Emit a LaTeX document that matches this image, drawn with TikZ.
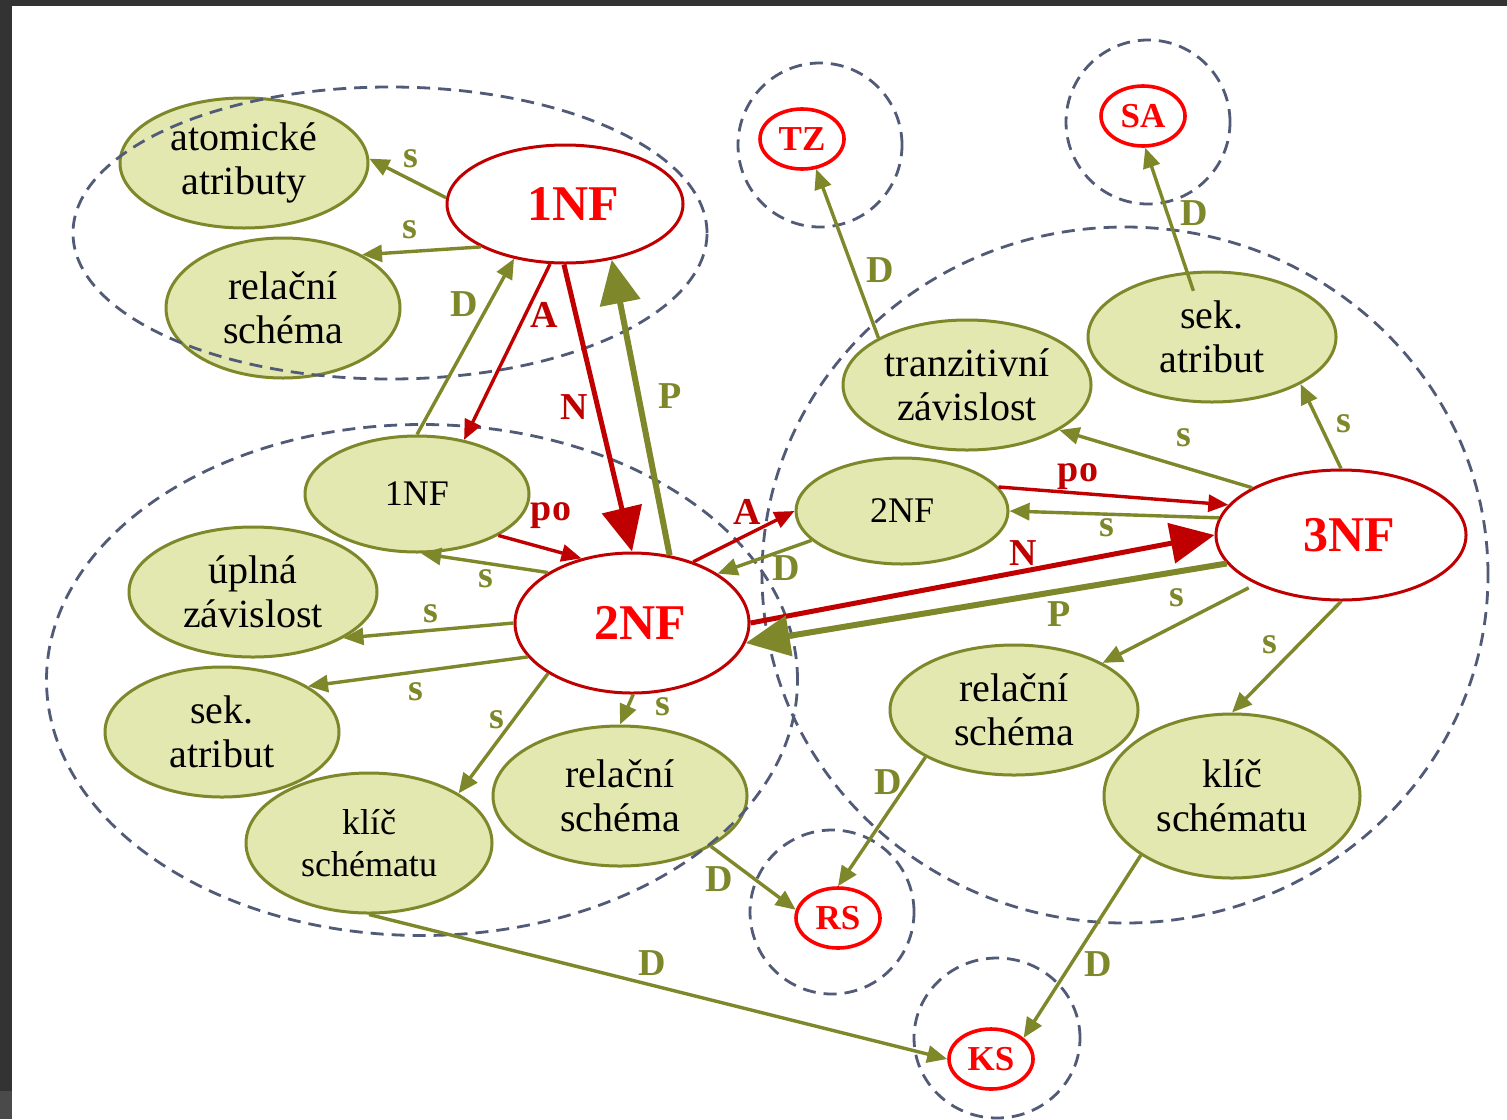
\documentclass[tikz,border=0pt]{standalone}
\usepackage{fontspec}
\setmainfont{Liberation Serif}
\usetikzlibrary{arrows.meta,shapes.geometric}
\definecolor{olv}{HTML}{7E8729}
\definecolor{fillg}{HTML}{E2E8B0}
\definecolor{dred}{HTML}{C00000}
\definecolor{bred}{HTML}{FF0000}
\definecolor{grpc}{HTML}{515A77}
\definecolor{framec}{HTML}{333333}
\definecolor{framel}{HTML}{4A4A4A}
\begin{document}
\begin{tikzpicture}[x=0.5pt,y=-0.5pt,
  gnode/.style={ellipse, draw=olv, fill=fillg, line width=1.5pt, inner sep=0pt, align=center, font=\fontsize{20}{22}\selectfont},
  rnode/.style={ellipse, draw=dred, fill=white, line width=1.5pt, inner sep=0pt, text=bred, font=\fontsize{25}{30}\selectfont\bfseries},
  snode/.style={ellipse, draw=bred, fill=white, line width=1.8pt, inner sep=0pt, minimum width=42pt, minimum height=30pt, text=bred, font=\fontsize{17.5}{20}\selectfont\bfseries},
  grp/.style={draw=grpc, line width=1.4pt, dash pattern=on 6.5pt off 4pt},
  oarr/.style={draw=olv, line width=1.7pt, -{Triangle[length=10pt,width=8.5pt]}},
  rarr/.style={draw=dred, line width=1.7pt, -{Triangle[length=10pt,width=8.5pt]}},
  othick/.style={draw=olv, line width=3pt, -{Triangle[length=22pt,width=20pt]}},
  rthick/.style={draw=dred, line width=2.5pt, -{Triangle[length=22pt,width=20pt]}},
  olab/.style={text=olv, font=\fontsize{19}{20}\selectfont\bfseries, inner sep=0pt},
  rlab/.style={text=dred, font=\fontsize{19}{20}\selectfont\bfseries, inner sep=0pt}
]
\useasboundingbox (0,0) rectangle (1507,1119);
\fill[white] (0,0) rectangle (1507,1119);
\fill[framec] (0,0) rectangle (1507,6);
\fill[framec] (0,0) rectangle (12,1091);
\fill[framel] (0,1091) rectangle (12,1119);

% nodes
\node[gnode, minimum width=124pt, minimum height=65pt] (atom) at (244,163) {atomické\\atributy};
\node[gnode, minimum width=117pt, minimum height=70pt] (rs1) at (283,308) {relační\\schéma};
\node[rnode, minimum width=118pt, minimum height=59pt] (nf1) at (565,204) {\hspace*{8pt}1NF};
\node[gnode, minimum width=112pt, minimum height=58pt, font=\fontsize{18}{22}\selectfont] (g1) at (417,494) {1NF};
\node[gnode, minimum width=124pt, minimum height=65pt] (upl) at (253,592) {úplná\\závislost};
\node[gnode, minimum width=117pt, minimum height=65pt] (sek1) at (222,732) {sek.\\atribut};
\node[gnode, minimum width=123pt, minimum height=70pt, font=\fontsize{18}{21}\selectfont] (kl1) at (369,843) {klíč\\schématu};
\node[gnode, minimum width=127pt, minimum height=70pt] (rs2) at (620,796) {relační\\schéma};
\node[rnode, minimum width=117pt, minimum height=70pt] (nf2) at (632,623) {\hspace*{8pt}2NF};
\node[gnode, minimum width=106pt, minimum height=53pt, font=\fontsize{18}{22}\selectfont] (g2) at (902,511) {2NF};
\node[rnode, minimum width=125pt, minimum height=65pt] (nf3) at (1341,535) {\hspace*{8pt}3NF};
\node[gnode, minimum width=124pt, minimum height=65pt] (tz) at (967,385) {tranzitivní\\závislost};
\node[gnode, minimum width=124pt, minimum height=65pt] (sek2) at (1212,337) {sek.\\atribut};
\node[gnode, minimum width=124pt, minimum height=65pt] (rs3) at (1014,710) {relační\\schéma};
\node[gnode, minimum width=128pt, minimum height=82pt] (kl2) at (1232,796) {klíč\\schématu};
\node[snode] (TZ) at (802,139) {TZ};
\node[snode] (SA) at (1143,116) {SA};
\node[snode] (RS) at (838,918) {RS};
\node[snode] (KS) at (991,1059) {KS};

% dashed groups
\draw[grp] (390,233) ellipse [x radius=158.5pt, y radius=73pt];
\draw[grp] (422,680) ellipse [x radius=187.75pt, y radius=127.75pt];
\draw[grp] (1125,575) ellipse [x radius=181.5pt, y radius=174pt];
\draw[grp] (820,145) circle [radius=41pt];
\draw[grp] (1148,122) circle [radius=41pt];
\draw[grp] (832,912) circle [radius=41pt];
\draw[grp] (997,1038) ellipse [x radius=41.5pt, y radius=40pt];

% connectors
\draw[oarr] (nf1.177) -- (atom.2);
\draw[oarr] (nf1.207) -- (rs1.34);
\draw[oarr] (g1.90) -- (nf1.227);
\draw[rarr] (nf1.256) -- (g1.49);
\draw[rthick] (nf1.269) -- (nf2.90);
\draw[othick] (nf2.61) -- (nf1.310);
\draw[rarr] (g1.-27) -- (nf2.128);
\draw[oarr] (nf2.149) -- (g1.274);
\draw[oarr] (nf2.180) -- (upl.-27);
\draw[oarr] (nf2.198) -- (sek1.28);
\draw[oarr] (nf2.211) -- (kl1.29);
\draw[oarr] (nf2.271) -- (rs2.90);
\draw[rarr] (nf2.45) -- (g2.180);
\draw[oarr] (g2.198) -- (nf2.30);
\draw[rarr] (g2.14) -- (nf3.165);
\draw[oarr] (nf3.172) -- (g2.0);
\draw[rthick] (nf2.0) -- (nf3.180);
\draw[othick] (nf3.194) -- (nf2.350);
\draw[oarr] (nf3.152) -- (tz.334);
\draw[oarr] (nf3.90) -- (sek2.332);
\draw[oarr, shorten <=4pt] (nf3.210) -- (rs3.28);
\draw[oarr] (nf3.270) -- (kl2.90);
\draw[oarr] (tz.152) -- (TZ.295);
\draw[oarr, shorten <=-10pt] (sek2.111) -- (SA.274);
\draw[oarr] (rs2.331) -- (RS.169);
\draw[oarr] (rs3.208) -- (RS.90);
\draw[oarr] (kl1.270) -- (KS.180);
\draw[oarr] (kl2.213) -- (KS.33);

% labels
\node[olab] (l1) at (411,159) {s};
\node[olab] (l2) at (410,230) {s};
\node[olab] (l3) at (464,304) {D};
\node[rlab] (l4) at (544,315) {A};
\node[rlab] (l5) at (574,407) {N};
\node[olab] (l6) at (670,396) {P};
\node[rlab] (l7) at (551,516) {po};
\node[olab] (l8) at (486,579) {s};
\node[olab] (l9) at (431,614) {s};
\node[olab] (l10) at (416,692) {s};
\node[olab] (l11) at (497,720) {s};
\node[olab] (l12) at (663,707) {s};
\node[rlab] (l13) at (747,512) {A};
\node[olab] (l14) at (786,568) {D};
\node[rlab] (l15) at (1078,477) {po};
\node[olab] (l16) at (1107,528) {s};
\node[rlab] (l17) at (1023,553) {N};
\node[olab] (l18) at (1059,614) {P};
\node[olab] (l19) at (1184,438) {s};
\node[olab] (l20) at (1344,424) {s};
\node[olab] (l21) at (1177,598) {s};
\node[olab] (l22) at (1270,645) {s};
\node[olab] (l23) at (880,270) {D};
\node[olab] (l24) at (1194,213) {D};
\node[olab] (l25) at (719,879) {D};
\node[olab] (l26) at (888,782) {D};
\node[olab] (l27) at (652,963) {D};
\node[olab] (l28) at (1098,964) {D};
\end{tikzpicture}
\end{document}
